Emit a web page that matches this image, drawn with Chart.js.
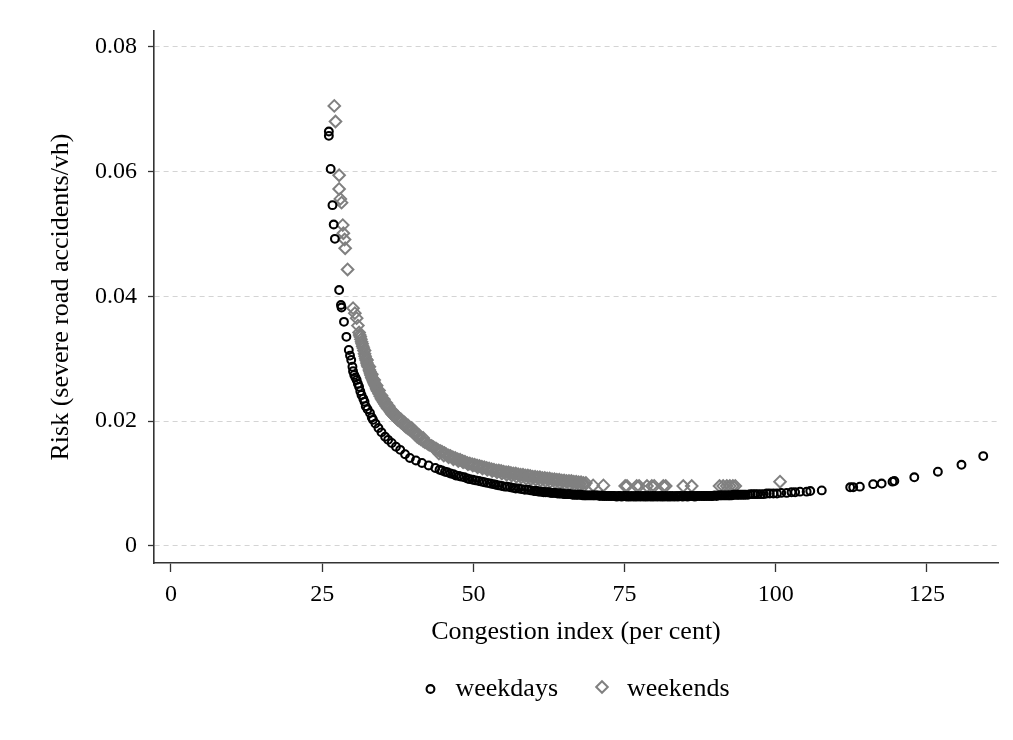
<!DOCTYPE html>
<html>
<head>
<meta charset="utf-8">
<title>Risk and congestion</title>
<script src="https://cdn.jsdelivr.net/npm/chart.js@4.4.1/dist/chart.umd.min.js"></script>
<style>
  html, body { margin: 0; padding: 0; background: #fff; }
  #wrap { width: 1013px; height: 740px; }
</style>
</head>
<body>
<div id="wrap"><canvas id="riskChart" width="1013" height="740"></canvas></div>
<script>
// weekdays: congestion index (per cent) and risk (severe road accidents/vh)
const weekdayX = [
  26.1, 26.1, 26.4, 26.7, 26.9, 27.1, 27.8, 28.1, 28.2, 28.6,
  29.0, 29.4, 29.6, 29.8, 30.0, 30.1, 30.3, 30.5, 30.7, 30.9,
  31.1, 31.3, 31.5, 31.8, 32.0, 32.2, 32.5, 32.9, 33.2, 33.4,
  33.8, 34.3, 34.8, 35.4, 35.9, 36.5, 37.2, 37.9, 38.7, 39.5,
  40.5, 41.5, 42.6, 43.7, 44.4, 44.8, 45.3, 45.7, 46.2, 46.7,
  47.1, 47.6, 48.0, 48.5, 49.0, 49.4, 49.9, 50.4, 50.9, 51.4,
  51.8, 52.3, 52.8, 53.3, 53.7, 54.2, 54.7, 55.2, 55.6, 56.1,
  56.6, 57.0, 57.5, 58.0, 58.5, 59.0, 59.5,
  60.0, 60.3, 60.5, 60.8, 61.1, 61.4, 61.6, 61.9, 62.2, 62.5,
  62.8, 63.0, 63.3, 63.6, 63.9, 64.2, 64.4, 64.7, 65.0, 65.3,
  65.6, 65.8, 66.1, 66.4, 66.7, 67.0, 67.2, 67.5, 67.8, 68.1,
  68.4, 68.6, 68.9, 69.2, 69.5, 69.8, 70.0, 70.3, 70.6, 70.9,
  71.2, 71.4, 71.7, 72.0, 72.3, 72.6, 72.8, 73.1, 73.4, 73.7,
  74.0, 74.2, 74.5, 74.8, 75.1, 75.4, 75.6, 75.9, 76.2, 76.5,
  76.8, 77.0, 77.3, 77.6, 77.9, 78.2, 78.4, 78.7, 79.0, 79.3,
  79.6, 79.8, 80.1, 80.4, 80.7, 81.0, 81.2, 81.5, 81.8, 82.1,
  82.4, 82.6, 82.9, 83.2, 83.5, 83.8, 84.0, 84.3, 84.6, 84.9,
  85.2, 85.4, 85.7, 86.0, 86.3, 86.6, 86.8, 87.1, 87.4, 87.7,
  88.0, 88.2, 88.5, 88.8, 89.1, 89.4, 89.6, 89.9, 90.2, 90.5,
  90.8, 91.0, 91.3, 91.6, 91.9, 92.2, 92.4, 92.7, 93.0, 93.3,
  93.6, 93.8, 94.1, 94.4, 94.7, 95.0, 95.4, 95.8, 96.2, 96.6,
  97.0, 97.5, 98.0, 98.5, 99.0, 99.6, 100.2, 100.9, 101.8, 102.6,
  103.2, 104.0, 105.1, 105.7, 107.6, 112.3, 112.8, 113.9, 116.1, 117.5,
  119.3, 119.6, 122.9, 126.8, 130.7, 134.3
];
const weekdayRisk = [
  0.0664, 0.0657, 0.0604, 0.0546, 0.0515, 0.0492, 0.0410, 0.0386, 0.0382, 0.0359,
  0.0335, 0.0314, 0.0305, 0.0298, 0.0287, 0.0280, 0.0274, 0.0270, 0.0266, 0.0260,
  0.0255, 0.0248, 0.0242, 0.0236, 0.0231, 0.0224, 0.0219, 0.0213, 0.0206, 0.0202,
  0.0196, 0.0189, 0.0182, 0.0175, 0.0170, 0.0165, 0.0159, 0.0154, 0.0147, 0.0141,
  0.0137, 0.0133, 0.0129, 0.0125, 0.0122, 0.0121, 0.0119, 0.0118, 0.0116, 0.0115,
  0.0113, 0.0112, 0.0111, 0.0110, 0.0108, 0.0107, 0.0106, 0.0105, 0.0104, 0.0103,
  0.0102, 0.0101, 0.0100, 0.0099, 0.0098, 0.0097, 0.0096, 0.0095, 0.0095, 0.0094,
  0.0093, 0.0092, 0.0092, 0.0091, 0.0090, 0.0090, 0.0089,
  0.0088, 0.0088, 0.0088, 0.0087, 0.0087, 0.0087, 0.0086, 0.0086, 0.0086, 0.0086,
  0.0085, 0.0085, 0.0085, 0.0085, 0.0084, 0.0084, 0.0084, 0.0084, 0.0083, 0.0083,
  0.0083, 0.0083, 0.0083, 0.0082, 0.0082, 0.0082, 0.0082, 0.0082, 0.0082, 0.0081,
  0.0081, 0.0081, 0.0081, 0.0081, 0.0081, 0.0081, 0.0081, 0.0081, 0.0081, 0.0080,
  0.0081, 0.0080, 0.0080, 0.0080, 0.0080, 0.0080, 0.0080, 0.0080, 0.0080, 0.0079,
  0.0080, 0.0080, 0.0079, 0.0080, 0.0080, 0.0079, 0.0080, 0.0079, 0.0080, 0.0079,
  0.0080, 0.0079, 0.0080, 0.0079, 0.0080, 0.0079, 0.0080, 0.0079, 0.0080, 0.0079,
  0.0080, 0.0079, 0.0080, 0.0079, 0.0080, 0.0079, 0.0080, 0.0079, 0.0080, 0.0079,
  0.0080, 0.0079, 0.0080, 0.0079, 0.0080, 0.0079, 0.0080, 0.0080, 0.0079, 0.0080,
  0.0080, 0.0079, 0.0080, 0.0080, 0.0080, 0.0079, 0.0080, 0.0080, 0.0080, 0.0080,
  0.0080, 0.0080, 0.0080, 0.0080, 0.0080, 0.0080, 0.0080, 0.0081, 0.0080, 0.0081,
  0.0081, 0.0081, 0.0081, 0.0081, 0.0081, 0.0081, 0.0081, 0.0081, 0.0082, 0.0082,
  0.0082, 0.0082, 0.0082, 0.0082, 0.0082, 0.0082, 0.0082, 0.0083, 0.0083, 0.0083,
  0.0083, 0.0083, 0.0083, 0.0084, 0.0084, 0.0084, 0.0084, 0.0085, 0.0085, 0.0086,
  0.0086, 0.0087, 0.0087, 0.0088, 0.0089, 0.0094, 0.0094, 0.0095, 0.0099, 0.0100,
  0.0103, 0.0104, 0.0110, 0.0119, 0.0130, 0.0144
];

// weekends
const weekendX = [
  27.0, 27.2, 27.8, 27.8, 28.0, 28.2, 28.4, 28.5, 28.7, 28.8,
  29.2, 30.1, 30.4, 30.7, 30.9, 31.1, 31.2, 31.3, 31.4, 31.5,
  31.6, 31.7, 31.8, 31.9, 32.0, 32.1, 32.2, 32.3, 32.4, 32.5,
  32.6, 32.8, 32.9, 33.0, 33.1, 33.2, 33.3, 33.4, 33.5, 33.6,
  33.7, 33.8, 33.9, 34.0, 34.1, 34.2, 34.4, 34.6, 34.8, 35.0,
  35.2, 35.4, 35.6, 35.8, 36.0, 36.3, 36.5, 36.8, 37.0, 37.3,
  37.5, 37.8, 38.0, 38.3, 38.6, 38.9, 39.2, 39.5, 39.8, 40.1,
  40.4, 40.7, 41.0, 41.3, 41.7, 42.0, 42.4, 42.7, 43.1, 43.4,
  43.8, 44.1, 44.5, 44.8, 45.2, 45.5, 45.9, 46.2, 46.6, 47.0,
  47.4, 47.8, 48.2, 48.6, 49.0, 49.4, 49.8, 50.2, 50.6, 51.0,
  51.4, 51.8, 52.2, 52.6, 53.0, 53.4, 53.8, 54.2, 54.6, 55.0,
  55.4, 55.8, 56.2, 56.6, 57.0, 57.4, 57.8, 58.2, 58.6, 59.0,
  59.4, 59.8, 60.2, 60.6, 61.0, 61.4, 61.8, 62.2, 62.6, 63.0,
  63.4, 63.8, 64.2, 64.6, 65.0, 65.4, 65.8, 66.2, 66.6, 67.0,
  67.4, 67.8, 68.2, 68.6, 44.3, 45.1, 45.9, 46.7, 47.5, 48.3,
  49.1, 49.9, 50.7, 51.5, 52.3, 53.1, 53.9, 54.7, 55.5, 56.3,
  57.1, 57.9, 58.7, 59.5, 60.3, 61.1, 61.9, 62.7, 63.5, 64.3,
  65.1, 65.9, 66.7, 67.5, 68.3, 69.8, 71.5, 75.1, 75.4, 77.0,
  77.4, 78.7, 79.5, 79.9, 81.4, 81.8, 84.7, 86.1, 90.7, 91.3,
  91.9, 92.4, 92.9, 93.3, 100.7,
  32.0, 32.4, 32.8, 33.2, 33.6, 34.0, 34.4, 34.8, 35.2, 35.6,
  36.0, 36.5, 37.0, 37.5, 38.0, 38.6, 39.2, 39.8, 40.4, 41.0,
  41.7
];
const weekendRisk = [
  0.0705, 0.0680, 0.0594, 0.0572, 0.0556, 0.0550, 0.0514, 0.0501, 0.0491, 0.0477,
  0.0443, 0.0381, 0.0373, 0.0365, 0.0353, 0.0342, 0.0338, 0.0335, 0.0331, 0.0327,
  0.0324, 0.0320, 0.0317, 0.0313, 0.0308, 0.0304, 0.0300, 0.0297, 0.0293, 0.0290,
  0.0287, 0.0282, 0.0279, 0.0276, 0.0273, 0.0270, 0.0268, 0.0266, 0.0263, 0.0261,
  0.0259, 0.0257, 0.0255, 0.0252, 0.0250, 0.0248, 0.0244, 0.0240, 0.0236, 0.0233,
  0.0230, 0.0227, 0.0224, 0.0221, 0.0219, 0.0215, 0.0212, 0.0209, 0.0207, 0.0204,
  0.0202, 0.0200, 0.0198, 0.0196, 0.0193, 0.0190, 0.0188, 0.0186, 0.0184, 0.0182,
  0.0178, 0.0175, 0.0173, 0.0171, 0.0168, 0.0166, 0.0164, 0.0162, 0.0160, 0.0158,
  0.0156, 0.0154, 0.0152, 0.0151, 0.0149, 0.0147, 0.0145, 0.0144, 0.0142, 0.0141,
  0.0139, 0.0138, 0.0136, 0.0135, 0.0133, 0.0132, 0.0131, 0.0130, 0.0129, 0.0128,
  0.0127, 0.0126, 0.0125, 0.0124, 0.0123, 0.0122, 0.0121, 0.0121, 0.0120, 0.0119,
  0.0118, 0.0118, 0.0117, 0.0116, 0.0116, 0.0115, 0.0114, 0.0114, 0.0113, 0.0113,
  0.0112, 0.0111, 0.0111, 0.0110, 0.0110, 0.0109, 0.0109, 0.0108, 0.0108, 0.0107,
  0.0107, 0.0106, 0.0106, 0.0105, 0.0105, 0.0104, 0.0104, 0.0104, 0.0103, 0.0103,
  0.0102, 0.0102, 0.0101, 0.0101, 0.0148, 0.0145, 0.0142, 0.0139, 0.0136, 0.0134,
  0.0131, 0.0129, 0.0126, 0.0124, 0.0122, 0.0120, 0.0118, 0.0116, 0.0114, 0.0113,
  0.0111, 0.0110, 0.0108, 0.0107, 0.0106, 0.0105, 0.0104, 0.0103, 0.0102, 0.0101,
  0.0100, 0.0099, 0.0099, 0.0098, 0.0097, 0.0097, 0.0097, 0.0096, 0.0096, 0.0096,
  0.0096, 0.0096, 0.0096, 0.0096, 0.0096, 0.0096, 0.0096, 0.0096, 0.0096, 0.0096,
  0.0096, 0.0096, 0.0096, 0.0096, 0.0103,
  0.0313, 0.0298, 0.0287, 0.0275, 0.0266, 0.0257, 0.0249, 0.0241, 0.0235, 0.0229,
  0.0224, 0.0217, 0.0212, 0.0207, 0.0203, 0.0198, 0.0193, 0.0189, 0.0183, 0.0178,
  0.0173
];

const xTicks = [0, 25, 50, 75, 100, 125];
const yTicks = [0, 0.02, 0.04, 0.06, 0.08];
const seriesNames = ['weekdays', 'weekends'];

const SERIF = '"Liberation Serif", "Times New Roman", Times, serif';

function toPoints(xs, ys) {
  const n = Math.min(xs.length, ys.length);
  const pts = [];
  for (let i = 0; i < n; i++) pts.push({ x: xs[i], y: ys[i] });
  return pts;
}

// legend under the x title, centred on the plot area
const bottomLegend = {
  id: 'bottomLegend',
  afterDraw(chart) {
    const ctx = chart.ctx;
    const area = chart.chartArea;
    const y = 689;
    ctx.save();
    ctx.font = '26px ' + SERIF;
    ctx.textBaseline = 'middle';
    ctx.textAlign = 'left';
    const items = chart.data.datasets.map(ds => ({
      ds: ds,
      w: ctx.measureText(ds.label).width
    }));
    const markGap = 25, itemGap = 44;
    let total = 0;
    items.forEach((it, i) => {
      total += markGap + it.w + (i < items.length - 1 ? itemGap : 0);
    });
    let x = (area.left + area.right) / 2 - total / 2 + 4;
    items.forEach(it => {
      const ds = it.ds;
      ctx.strokeStyle = ds.borderColor;
      ctx.fillStyle = 'rgba(0,0,0,0)';
      ctx.lineWidth = ds.pointBorderWidth;
      Chart.helpers.drawPoint(ctx, {
        pointStyle: ds.pointStyle,
        radius: ds.pointRadius,
        rotation: 0,
        borderWidth: ds.pointBorderWidth
      }, x, ds.pointStyle === 'rectRot' ? y - 2 : y);
      ctx.fillStyle = '#000';
      ctx.fillText(ds.label, x + markGap, y);
      x += markGap + it.w + itemGap;
    });
    ctx.restore();
  }
};

const ctx = document.getElementById('riskChart').getContext('2d');
const chart = new Chart(ctx, {
  type: 'scatter',
  data: {
    datasets: [{
      label: seriesNames[0],
      data: toPoints(weekdayX, weekdayRisk),
      pointStyle: 'circle',
      pointRadius: 3.9,
      pointBorderWidth: 2.1,
      borderColor: '#000000',
      backgroundColor: 'rgba(0,0,0,0)',
      pointHoverRadius: 3.9
    }, {
      label: seriesNames[1],
      data: toPoints(weekendX, weekendRisk),
      pointStyle: 'rectRot',
      pointRadius: 5.8,
      pointBorderWidth: 2,
      borderColor: '#808080',
      backgroundColor: 'rgba(0,0,0,0)',
      pointHoverRadius: 5.8
    }]
  },
  options: {
    responsive: false,
    animation: false,
    devicePixelRatio: 1,
    layout: { padding: { top: 31, right: 15, bottom: 0, left: 0 } },
    plugins: {
      legend: { display: false },
      tooltip: { enabled: false }
    },
    scales: {
      x: {
        type: 'linear',
        min: -2.81,
        max: 136.74,
        afterBuildTicks: scale => { scale.ticks = xTicks.map(v => ({ value: v })); },
        afterFit: scale => { scale.height = 177; },
        ticks: {
          color: '#000',
          font: { family: SERIF, size: 24 },
          padding: 8,
          maxRotation: 0,
          callback: v => String(v)
        },
        grid: {
          drawOnChartArea: false,
          tickLength: 9,
          tickColor: '#333',
          tickWidth: 1.3
        },
        border: { color: '#333', width: 1.6 },
        title: {
          display: true,
          text: 'Congestion index (per cent)',
          color: '#000',
          font: { family: SERIF, size: 26 },
          padding: { top: 0, bottom: 92 }
        }
      },
      y: {
        type: 'linear',
        min: -0.00273,
        max: 0.0825,
        afterBuildTicks: scale => { scale.ticks = yTicks.map(v => ({ value: v })); },
        afterFit: scale => { scale.width = 154; },
        ticks: {
          color: '#000',
          font: { family: SERIF, size: 24 },
          padding: 11,
          callback: v => (v === 0 ? '0' : v.toFixed(2))
        },
        grid: {
          color: '#d4d4d4',
          lineWidth: 1,
          tickLength: 6,
          tickColor: '#333',
          tickWidth: 1.3,
          tickBorderDash: []
        },
        border: { color: '#333', width: 1.6, dash: [5, 4] },
        title: {
          display: true,
          text: 'Risk (severe road accidents/vh)',
          color: '#000',
          font: { family: SERIF, size: 26 },
          padding: { top: 46, bottom: 0 }
        }
      }
    }
  },
  plugins: [bottomLegend]
});
</script>
</body>
</html>
